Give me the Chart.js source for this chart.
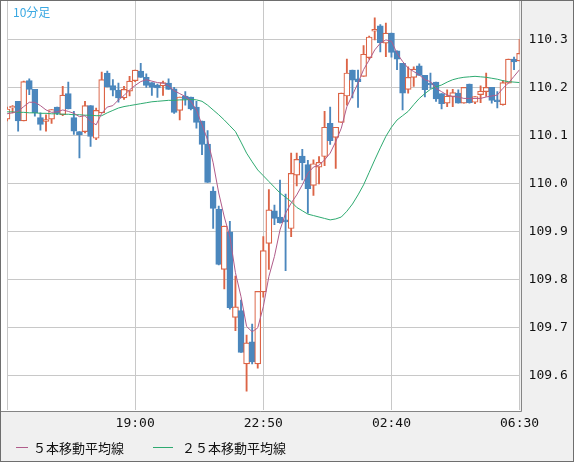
<!DOCTYPE html>
<html>
<head>
<meta charset="utf-8">
<script src="https://cdn.jsdelivr.net/npm/chart.js@4.4.0/dist/chart.umd.min.js"></script>
<style>body{margin:0;background:#fff}canvas{display:block}</style>
</head>
<body>
<canvas id="myChart" width="574" height="462"></canvas>
<script>
// 10 minute candles, 93 bars
var opens = [110.135,110.158,110.172,110.131,110.215,110.197,110.138,110.130,110.135,110.160,110.144,110.188,110.138,110.109,110.109,110.163,110.095,110.148,110.231,110.205,110.195,110.179,110.193,110.215,110.235,110.222,110.211,110.206,110.204,110.210,110.198,110.153,110.183,110.181,110.160,110.131,110.083,109.985,109.947,109.822,109.900,109.722,109.736,109.625,109.671,109.625,109.775,109.876,109.944,109.931,109.925,109.907,110.018,110.058,110.040,109.997,110.035,110.057,110.126,110.097,110.128,110.183,110.237,110.219,110.224,110.263,110.318,110.329,110.293,110.314,110.277,110.251,110.197,110.222,110.246,110.226,110.210,110.212,110.188,110.168,110.182,110.189,110.168,110.208,110.170,110.186,110.192,110.201,110.175,110.165,110.210,110.260,110.256];
var highs = [110.160,110.163,110.172,110.214,110.219,110.197,110.148,110.144,110.155,110.160,110.203,110.212,110.151,110.109,110.172,110.163,110.158,110.233,110.235,110.217,110.210,110.203,110.224,110.237,110.251,110.229,110.211,110.208,110.214,110.219,110.201,110.181,110.192,110.181,110.172,110.131,110.111,109.994,109.954,109.912,109.922,109.808,109.758,109.685,109.708,109.776,109.890,109.988,109.956,110.008,109.979,110.064,110.064,110.072,110.049,110.050,110.057,110.151,110.160,110.118,110.189,110.260,110.237,110.237,110.288,110.308,110.346,110.332,110.335,110.314,110.277,110.251,110.244,110.244,110.250,110.226,110.231,110.212,110.188,110.196,110.197,110.196,110.201,110.208,110.182,110.204,110.231,110.201,110.192,110.215,110.260,110.264,110.301];
var lows = [110.131,110.148,110.110,110.131,110.186,110.141,110.112,110.110,110.126,110.144,110.142,110.156,110.103,110.054,110.106,110.078,110.092,110.148,110.202,110.183,110.170,110.176,110.183,110.213,110.222,110.201,110.184,110.180,110.184,110.197,110.147,110.133,110.164,110.154,110.116,110.061,110.003,109.907,109.831,109.781,109.739,109.694,109.649,109.568,109.625,109.616,109.764,109.822,109.915,109.918,109.819,109.890,109.996,110.008,109.939,109.976,110.000,110.038,110.082,110.032,110.128,110.164,110.179,110.159,110.224,110.260,110.300,110.275,110.265,110.264,110.238,110.154,110.189,110.203,110.226,110.181,110.199,110.172,110.156,110.161,110.161,110.168,110.168,110.168,110.167,110.169,110.182,110.168,110.158,110.164,110.210,110.238,110.256];
var closes = [110.156,110.162,110.131,110.213,110.197,110.148,110.124,110.134,110.155,110.147,110.185,110.156,110.110,110.102,110.163,110.099,110.153,110.217,110.202,110.195,110.179,110.197,110.214,110.237,110.222,110.205,110.201,110.200,110.211,110.197,110.149,110.181,110.176,110.156,110.128,110.082,110.003,109.949,109.832,109.912,109.742,109.744,109.649,109.669,109.629,109.776,109.861,109.946,109.928,109.919,109.921,110.022,110.051,110.044,109.990,110.042,110.045,110.118,110.090,110.118,110.189,110.231,110.216,110.213,110.270,110.306,110.322,110.294,110.314,110.274,110.260,110.189,110.222,110.239,110.226,110.196,110.206,110.177,110.167,110.183,110.190,110.168,110.201,110.169,110.182,110.193,110.201,110.174,110.171,110.211,110.260,110.254,110.272];
var ma5 = [110.146,110.148,110.151,110.161,110.170,110.170,110.163,110.154,110.149,110.150,110.154,110.151,110.147,110.140,110.142,110.130,110.123,110.147,110.160,110.163,110.175,110.184,110.196,110.205,110.213,110.217,110.214,110.211,110.210,110.204,110.194,110.188,110.182,110.172,110.154,110.123,110.092,110.044,109.981,109.931,109.890,109.815,109.765,109.703,109.692,109.700,109.744,109.807,109.849,109.904,109.939,109.960,109.977,109.998,110.022,110.035,110.039,110.050,110.064,110.088,110.116,110.161,110.185,110.210,110.238,110.258,110.279,110.293,110.300,110.297,110.272,110.255,110.241,110.234,110.227,110.217,110.213,110.199,110.192,110.185,110.182,110.181,110.178,110.178,110.178,110.178,110.181,110.183,110.185,110.199,110.210,110.224,110.238];
var ma25 = [110.150,110.150,110.149,110.149,110.148,110.148,110.147,110.147,110.146,110.146,110.145,110.145,110.144,110.144,110.143,110.143,110.142,110.142,110.148,110.153,110.158,110.161,110.163,110.165,110.167,110.169,110.171,110.172,110.173,110.174,110.174,110.175,110.175,110.176,110.175,110.172,110.164,110.154,110.144,110.133,110.121,110.109,110.087,110.064,110.046,110.029,110.017,110.005,109.993,109.981,109.972,109.963,109.951,109.944,109.937,109.934,109.931,109.928,109.925,109.927,109.931,109.943,109.958,109.977,109.998,110.024,110.050,110.075,110.099,110.118,110.133,110.142,110.151,110.165,110.178,110.188,110.197,110.202,110.206,110.212,110.217,110.220,110.222,110.223,110.224,110.223,110.222,110.220,110.218,110.215,110.213,110.212,110.211];
var tickIndex = [0, 23, 46, 69, 92];
var tickLabels = ['', '19:00', '22:50', '02:40', '06:30'];
var priceTicks = [109.6, 109.7, 109.8, 109.9, 110.0, 110.1, 110.2, 110.3];

var UP = '#dc6446', DOWN = '#4b87bd';
var wicks = [], bodies = [], wickColors = [], bodyFill = [], bodyBorder = [];
for (var i = 0; i < opens.length; i++) {
  var up = closes[i] >= opens[i];
  wicks.push({x: i, y: [lows[i], highs[i]]});
  bodies.push({x: i, y: [Math.min(opens[i], closes[i]), Math.max(opens[i], closes[i])]});
  wickColors.push(up ? UP : DOWN);
  bodyFill.push(up ? '#ffffff' : DOWN);
  bodyBorder.push(up ? UP : DOWN);
}

var chrome = {
  id: 'chrome',
  beforeDraw: function(chart) {
    var c = chart.ctx;
    c.save();
    c.fillStyle = '#fff'; c.fillRect(0, 0, 574, 462);
    c.fillStyle = '#f0f0f0';
    c.fillRect(520, 0, 54, 462);
    c.fillRect(0, 411, 574, 51);
    c.restore();
  },
  afterDraw: function(chart) {
    var c = chart.ctx;
    c.save();
    c.strokeStyle = '#858585'; c.lineWidth = 1;
    c.beginPath();
    c.moveTo(521.5, 0); c.lineTo(521.5, 411.5); c.lineTo(0, 411.5);
    c.stroke();
    c.strokeStyle = '#6e6e6e';
    c.strokeRect(0.5, 0.5, 573, 461);
    c.fillStyle = '#3aa8e2';
    c.font = '12px "Noto Sans CJK JP"';
    c.textBaseline = 'middle';
    c.fillText('10分足', 13, 12);
    c.lineWidth = 1;
    c.strokeStyle = '#b05c8a';
    c.beginPath(); c.moveTo(16, 447.5); c.lineTo(28, 447.5); c.stroke();
    c.strokeStyle = '#2eaa70';
    c.beginPath(); c.moveTo(153, 447.5); c.lineTo(173, 447.5); c.stroke();
    c.fillStyle = '#111';
    c.font = '13px "Noto Sans CJK JP"';
    c.fillText('５本移動平均線', 33, 448);
    c.fillText('２５本移動平均線', 182, 448);
    c.restore();
  }
};

var ctx = document.getElementById('myChart').getContext('2d');
var chart = new Chart(ctx, {
  data: {
    datasets: [
      {type: 'line', label: 'MA5', data: ma5.map(function(v, i) { return {x: i, y: v}; }),
       borderColor: '#b05c8a', borderWidth: 1, pointRadius: 0, tension: 0, order: 0},
      {type: 'line', label: 'MA25', data: ma25.map(function(v, i) { return {x: i, y: v}; }),
       borderColor: '#2eaa70', borderWidth: 1, pointRadius: 0, tension: 0, order: 1},
      {type: 'bar', label: 'body', data: bodies, backgroundColor: bodyFill, borderColor: bodyBorder,
       borderWidth: 1.2, borderSkipped: false, barThickness: 6, grouped: false, order: 2},
      {type: 'bar', label: 'wick', data: wicks, backgroundColor: wickColors, borderWidth: 0,
       barThickness: 1.2, grouped: false, order: 3}
    ]
  },
  options: {
    responsive: false,
    animation: false,
    layout: {padding: {left: 7, top: 0, right: 0, bottom: 0}},
    plugins: {legend: {display: false}, tooltip: {enabled: false}},
    scales: {
      x: {
        type: 'linear', min: 0, max: 92, offset: false,
        afterFit: function(s) { s.height = 52; s.paddingLeft = 0; s.paddingRight = 0; },
        afterBuildTicks: function(s) { s.ticks = tickIndex.map(function(v) { return {value: v}; }); },
        grid: {color: '#c8c8c8', drawTicks: false, offset: false},
        border: {display: false},
        ticks: {
          padding: 6, color: '#111', maxRotation: 0, autoSkip: false,
          font: {family: 'DejaVu Sans Mono', size: 13},
          callback: function(v) { var k = tickIndex.indexOf(v); return k >= 0 ? tickLabels[k] : ''; }
        }
      },
      y: {
        position: 'right', min: 109.529, max: 110.383,
        afterFit: function(s) { s.width = 54.4; s.paddingTop = 0; s.paddingBottom = 0; },
        afterBuildTicks: function(s) { s.ticks = priceTicks.map(function(v) { return {value: v}; }); },
        grid: {color: '#c8c8c8', drawTicks: false},
        border: {display: false},
        ticks: {
          padding: 9, color: '#111',
          font: {family: 'DejaVu Sans Mono', size: 13},
          callback: function(v) { return v.toFixed(1); }
        }
      }
    }
  },
  plugins: [chrome]
});
</script>
</body>
</html>
